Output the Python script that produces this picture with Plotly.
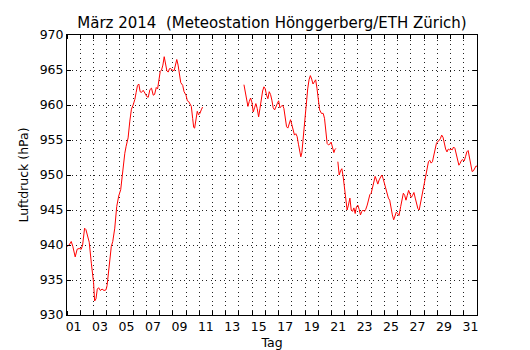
import plotly.graph_objects as go

# Time in days since 1 March 00:00; pressure in hPa (None = data gap)
days = [
    0.00, 0.16, 0.32, 0.44, 0.62, 0.77, 0.92, 1.08, 1.18, 1.33, 1.43, 1.58, 1.68, 1.84,
    2.01, 2.09, 2.19, 2.29, 2.39, 2.52, 2.65, 2.80, 2.95, 3.03, 3.15, 3.35, 3.46, 3.61,
    3.76, 3.91, 4.06, 4.22, 4.37, 4.47, 4.62, 4.75, 4.87, 5.00, 5.13, 5.23, 5.33, 5.43,
    5.53, 5.63, 5.76, 5.89, 6.04, 6.14, 6.27, 6.39, 6.52, 6.62, 6.75, 6.85, 6.95, 7.05,
    7.15, 7.25, 7.35, 7.45, 7.55, 7.65, 7.75, 7.85, 7.95, 8.10, 8.20, 8.30, 8.40, 8.50,
    8.60, 8.75, 8.85, 9.00, 9.10, 9.20, 9.30, 9.40, 9.50, 9.58, 9.65, 9.75, 9.85, 9.95,
    10.05, 10.15, 10.25, 11.50,
    13.38, 13.48, 13.58, 13.68, 13.78, 13.88, 13.98, 14.08, 14.18, 14.28, 14.38, 14.49,
    14.59, 14.69, 14.79, 14.89, 14.99, 15.09, 15.19, 15.29, 15.39, 15.49, 15.59, 15.70,
    15.80, 15.90, 16.00, 16.10, 16.20, 16.30, 16.40, 16.50, 16.60, 16.70, 16.80, 16.90,
    17.00, 17.10, 17.20, 17.30, 17.40, 17.50, 17.60, 17.68, 17.76, 17.84, 17.91, 18.00,
    18.10, 18.20, 18.30, 18.40, 18.50, 18.60, 18.70, 18.80, 18.90, 19.00, 19.10, 19.24,
    19.37, 19.47, 19.57, 19.67, 19.77, 19.87, 19.97, 20.08, 20.18, 20.25, 20.33, 20.40,
    20.48, 20.58, 20.68, 20.78, 20.88, 20.98, 21.08, 21.18, 21.28, 21.39, 21.49, 21.59,
    21.69, 21.79, 21.89, 21.99, 22.09, 22.19, 22.29, 22.39, 22.49, 22.59, 22.70, 22.80,
    22.90, 23.00, 23.10, 23.20, 23.30, 23.40, 23.50, 23.60, 23.70, 23.80, 23.90, 24.00,
    24.10, 24.20, 24.30, 24.40, 24.50, 24.60, 24.70, 24.80, 24.90, 25.00, 25.10, 25.23,
    25.33, 25.43, 25.53, 25.63, 25.73, 25.83, 25.93, 26.03, 26.13, 26.23, 26.33, 26.43,
    26.53, 26.63, 26.73, 26.83, 26.93, 27.03, 27.13, 27.23, 27.33, 27.43, 27.53, 27.63,
    27.73, 27.83, 27.93, 28.03, 28.13, 28.23, 28.33, 28.43, 28.53, 28.63, 28.73, 28.83,
    28.93, 29.03, 29.13, 29.23, 29.33, 29.43, 29.53, 29.63, 29.73, 29.83, 29.93, 30.03,
    30.13, 30.23, 30.33, 30.43, 30.53, 30.63, 30.73, 30.83, 30.93, 31.00,
]
pressure = [
    939.8, 940.0, 940.5, 939.8, 938.3, 939.4, 939.5, 939.4, 940.0, 942.4, 942.2, 940.8, 940.4, 937.4,
    934.6, 932.0, 932.3, 933.7, 933.9, 933.5, 933.7, 933.5, 933.6, 934.2, 936.0, 939.8, 940.5, 942.4,
    945.5, 947.0, 947.9, 950.8, 953.1, 954.1, 955.3, 957.7, 959.4, 960.0, 960.8, 961.8, 962.8, 963.0,
    961.9, 961.8, 962.1, 961.7, 961.2, 961.1, 962.2, 962.4, 961.4, 961.5, 962.5, 962.3, 963.3, 964.8,
    965.0, 965.7, 966.9, 965.9, 964.9, 964.7, 965.2, 965.2, 965.0, 964.9, 965.9, 966.5, 965.7, 964.2,
    963.2, 962.8, 961.9, 961.4, 960.6, 960.5, 960.0, 959.8, 958.1, 956.8, 956.7, 957.9, 959.1, 958.6,
    958.8, 959.3, 959.7, None,
    962.9, 961.8, 960.6, 959.8, 960.5, 961.0, 960.4, 959.0, 959.6, 960.2, 959.5, 958.3,
    959.5, 961.0, 962.0, 962.6, 962.3, 961.4, 960.9, 961.9, 961.5, 960.7, 959.6, 959.3,
    959.9, 960.2, 960.6, 959.6, 959.8, 960.0, 959.5, 958.2, 956.9, 956.7, 957.5, 957.9,
    957.2, 956.4, 955.7, 955.9, 955.5, 954.4, 953.2, 952.6, 953.2, 954.8, 956.9, 959.0,
    961.0, 962.3, 963.6, 964.2, 963.7, 963.0, 963.3, 963.6, 962.4, 960.5, 959.3, 958.8,
    958.8, 958.1, 956.2, 954.5, 954.3, 954.4, 954.7, 953.9, 953.2, 953.6, 953.8, None,
    951.9, 950.0, 950.6, 950.9, 949.8, 948.1, 946.2, 945.0, 945.7, 946.7, 945.0, 944.8,
    945.3, 944.5, 945.5, 945.7, 945.1, 944.3, 944.8, 945.0, 944.8, 945.1, 945.7, 946.4,
    947.2, 947.4, 948.1, 949.1, 949.8, 949.3, 948.7, 949.3, 949.8, 950.0, 949.5, 948.8,
    947.9, 947.1, 946.7, 946.4, 945.2, 944.3, 943.6, 944.3, 944.7, 944.5, 944.2, 945.5,
    946.7, 947.4, 947.1, 946.4, 947.1, 947.8, 947.3, 946.8, 947.1, 947.5, 946.7, 946.0,
    945.2, 945.0, 946.0, 947.0, 947.9, 948.7, 949.7, 950.8, 951.9, 952.1, 951.7, 951.9,
    952.9, 953.7, 954.5, 954.8, 954.9, 955.2, 955.7, 955.4, 954.5, 953.7, 953.3, 953.7,
    953.6, 953.7, 953.6, 954.0, 953.8, 953.1, 952.2, 951.4, 951.7, 952.1, 952.2, 952.0,
    952.6, 953.3, 953.5, 952.6, 951.7, 950.5, 950.6, 951.1, 951.3, 951.2,
]

day_label_pos = [d - 0.5 for d in range(1, 32, 2)]
day_labels = [f"{d:02d}" for d in range(1, 32, 2)]
day_bounds = list(range(0, 32))
y_ticks = list(range(930, 971, 5))

FONT = "DejaVu Sans"

fig = go.Figure()
fig.add_trace(go.Scatter(
    x=days, y=pressure, mode="lines",
    line=dict(color="#ff0000", width=1),
    connectgaps=False, showlegend=False,
))

grid_dash = "1px,3.5px"
grid_color = "#222222"
# the page body adds an 8 px offset at left/top, so the figure is 8 px smaller
fig.update_layout(
    width=522, height=342,
    margin=dict(l=59, r=53, t=27, b=35, autoexpand=False),
    paper_bgcolor="white", plot_bgcolor="white",
    font=dict(family=FONT, size=12.5, color="black"),
    title=dict(text="März 2014 \u00a0(Meteostation Hönggerberg/ETH Zürich)",
               x=0.5, xref="paper", xanchor="center",
               y=1.0, yref="container", yanchor="top", pad=dict(t=9),
               font=dict(family=FONT, size=15, color="black")),
    xaxis=dict(
        range=[0, 31], tickmode="array", tickvals=day_label_pos, ticktext=day_labels,
        ticks="", showgrid=False, zeroline=False, automargin=False,
        showline=True, linecolor="black", linewidth=1, mirror="allticks",
        tickfont=dict(family=FONT, size=12.5, color="black"),
        title=dict(text="Tag", font=dict(family=FONT, size=12.5, color="black"), standoff=5),
        minor=dict(tickmode="array", tickvals=day_bounds, ticks="inside", ticklen=4,
                   tickcolor="black", tickwidth=1,
                   showgrid=True, gridcolor=grid_color, gridwidth=0.6, griddash=grid_dash),
    ),
    yaxis=dict(
        range=[930, 970], tickmode="array", tickvals=y_ticks,
        ticks="inside", ticklen=4, tickcolor="black", tickwidth=1,
        showgrid=True, gridcolor=grid_color, gridwidth=0.6, griddash=grid_dash,
        zeroline=False, showline=True, linecolor="black", linewidth=1, mirror="allticks",
        automargin=False,
        tickfont=dict(family=FONT, size=12.5, color="black"),
        title=dict(text="Luftdruck (hPa)", font=dict(family=FONT, size=12.5, color="black"), standoff=8),
    ),
)

fig.write_html("out.html")
